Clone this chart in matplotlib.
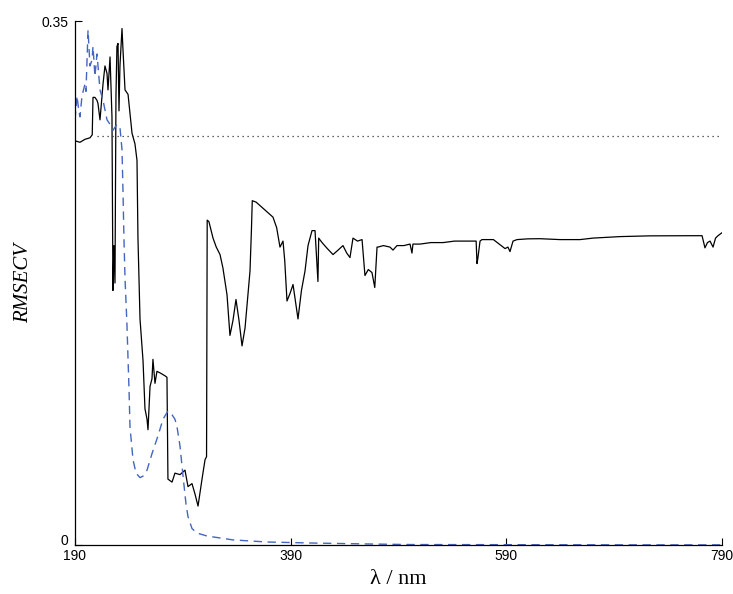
import matplotlib
matplotlib.use('Agg')
import matplotlib.pyplot as plt
import matplotlib.transforms as mtransforms

# black curve: RMSECV of the interval model vs wavelength
wl_black = [190, 194.6, 199.3, 203.9, 206.0, 206.7, 208.5, 210.4, 211.3, 213.2, 216.0, 217.8,
            219.7, 220.6, 222.5, 224.3, 225.2, 226.1, 227.1, 228.0, 228.9, 229.9, 230.8, 231.7,
            233.6, 234.5, 236.4, 239.2, 242.9, 245.6, 247.5, 248.4, 250.3, 253.1, 254.9,
            256.8, 257.7, 259.6, 261.4, 262.3, 264.2, 266.0, 268.8, 273.5, 275.3, 276.2,
            280.0, 282.7, 287.4, 292.0, 294.8, 298.5, 301.3, 304.1, 307.8, 310.6, 312.0,
            312.6, 314.2, 318.0, 321.0, 324.5, 327.2, 331.0, 333.7, 336.5, 339.3, 342.1,
            344.9, 347.7, 349.5, 352.3, 353.6, 354.4, 358.0, 364.3, 369.0, 373.6, 377.0,
            380.1, 382.9, 384.5, 386.6, 389.4, 392.2, 396.8, 400.0, 403.3, 406.1, 409.8,
            412.6, 415.3, 416.0, 419.1, 424.0, 429.3, 434.0, 438.5, 442.0, 445.0, 447.8,
            452.0, 456.2, 458.9, 462.0, 465.4, 468.0, 470.1, 471.0, 476.0, 482.1, 484.9,
            488.6, 495.0, 500.7, 502.5, 503.4, 509.9, 520.0, 531.3, 542.0, 551.7, 562.0,
            562.8, 563.7, 565.6, 567.4, 578.0, 588.8, 591.5, 593.4, 596.2, 599.9, 610.0,
            621.2, 639.8, 658.3, 670.4, 695.4, 723.2, 750.0, 763.1, 771.5, 774.2, 776.5,
            778.9, 781.7, 784.0, 786.3, 790]
rmse_black = [0.270, 0.269, 0.271, 0.272, 0.274, 0.299, 0.299, 0.297, 0.295, 0.284, 0.308,
              0.320, 0.315, 0.304, 0.326, 0.286, 0.170, 0.200, 0.175, 0.300, 0.333, 0.335,
              0.290, 0.320, 0.345, 0.331, 0.304, 0.301, 0.275, 0.268, 0.257, 0.205, 0.151,
              0.123, 0.091, 0.084, 0.077, 0.106, 0.111, 0.124, 0.108, 0.116, 0.115, 0.113,
              0.112, 0.044, 0.042, 0.048, 0.047, 0.050, 0.039, 0.041, 0.034, 0.026, 0.044,
              0.057, 0.059, 0.217, 0.216, 0.205, 0.199, 0.194, 0.185, 0.167, 0.140, 0.150,
              0.164, 0.150, 0.133, 0.145, 0.160, 0.183, 0.210, 0.230, 0.229, 0.225, 0.222,
              0.219, 0.212, 0.199, 0.203, 0.190, 0.163, 0.168, 0.174, 0.151, 0.170, 0.183,
              0.200, 0.210, 0.210, 0.176, 0.205, 0.202, 0.198, 0.194, 0.197, 0.200, 0.195,
              0.192, 0.205, 0.203, 0.204, 0.180, 0.184, 0.182, 0.172, 0.199, 0.199, 0.200,
              0.199, 0.197, 0.200, 0.200, 0.201, 0.195, 0.201, 0.201, 0.202, 0.202, 0.203,
              0.203, 0.203, 0.188, 0.192, 0.203, 0.204, 0.204, 0.198, 0.199, 0.196, 0.203,
              0.204, 0.2045, 0.2046, 0.204, 0.204, 0.205, 0.206, 0.2065, 0.2066, 0.2066,
              0.2066, 0.1985, 0.202, 0.203, 0.199, 0.205, 0.2066, 0.2086]

# blue dashed curve
wl_blue = [190, 191.9, 193.7, 194.6, 196.5, 199.3, 200.2, 202.1, 203.9, 205.8, 206.7, 208.5,
           210.4, 213.2, 216.0, 219.7, 222.5, 225.2, 228.9, 231.7, 233.6, 234.5, 235.4,
           236.4, 238.2, 239.2, 240.1, 241.0, 243.8, 246.6, 250.3, 253.1, 256.8, 261.4,
           267.0, 271.6, 276.2, 280.0, 282.7, 284.6, 287.4, 290.2, 293.0, 294.8, 298.5,
           303.1, 312.4, 336.5, 368.1, 410.7, 460.0, 500.7, 600.0, 700.0, 790]
rmse_blue = [0.284, 0.300, 0.289, 0.286, 0.300, 0.308, 0.303, 0.344, 0.320, 0.324, 0.333,
             0.313, 0.328, 0.304, 0.297, 0.284, 0.281, 0.277, 0.281, 0.279, 0.264, 0.237,
             0.205, 0.178, 0.147, 0.124, 0.104, 0.079, 0.057, 0.048, 0.045, 0.046, 0.050,
             0.061, 0.073, 0.084, 0.0895, 0.087, 0.084, 0.079, 0.066, 0.046, 0.027, 0.019,
             0.011, 0.008, 0.006, 0.0034, 0.002, 0.0013, 0.0007, 0.0003, 0.0002, 0.0001,
             0.0001]

# RMSECV of the full-spectrum model (dotted reference line)
rmse_full = 0.273

xticks = [190, 390, 590, 790]
yticks = [0, 0.35]

fig = plt.figure(figsize=(7.33, 5.94), dpi=100)
ax = fig.add_axes([0.1023, 0.0825, 0.8827, 0.8821])

ax.plot(wl_black, rmse_black, color='black', linewidth=0.9)
ax.plot(wl_blue, rmse_blue, color='#4466c0', linewidth=1.0, linestyle=(0, (6, 4)))
ax.plot([210, 790], [rmse_full, rmse_full], color='#333333', linewidth=0.9, linestyle=(0, (1, 3)))

ax.set_xlim(190, 790)
ax.set_ylim(0, 0.35)
ax.set_xticks(xticks)
ax.set_xticklabels(['190', '390', '590', '790'])
ax.set_yticks(yticks)
ax.set_yticklabels(['0', '0.35'])
ax.tick_params(direction='in', length=5, width=0.8, labelsize=10)
ax.tick_params(axis='x', pad=3)
ax.tick_params(axis='y', pad=5)
for lab in ax.get_xticklabels() + ax.get_yticklabels():
    lab.set_fontfamily('Liberation Sans')
# the "0" label sits a little above the axis line
zero = ax.get_yticklabels()[0]
zero.set_transform(zero.get_transform() + mtransforms.ScaledTranslation(0, 4 / 72, fig.dpi_scale_trans))
ax.spines['top'].set_visible(False)
ax.spines['right'].set_visible(False)
ax.spines['left'].set_linewidth(0.9)
ax.spines['bottom'].set_linewidth(0.9)

ax.set_xlabel('λ / nm', fontsize=16, family='Liberation Serif', labelpad=5)
ax.set_ylabel('RMSECV', fontsize=15, family='Liberation Serif', style='italic', labelpad=6)

fig.savefig('out.png', dpi=100)
